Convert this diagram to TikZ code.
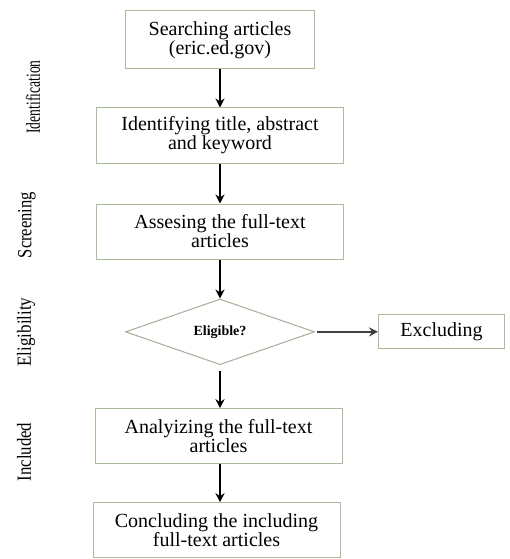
\documentclass[tikz,border=0pt]{standalone}
\usepackage{fontspec}
\setmainfont{Liberation Serif}
\usetikzlibrary{positioning,arrows.meta,shapes.geometric}
\definecolor{boxgreen}{HTML}{A9BC9A}

\begin{document}
\begin{tikzpicture}[>=Stealth,x=1pt,y=1pt,node distance=40pt and 63pt,
   every node/.style={font=\fontsize{20}{19}\selectfont},
   stepbox/.style={draw=boxgreen,line width=1pt,align=center,
     minimum width=247pt,minimum height=55pt,inner sep=2pt},
   phase/.style={rotate=90,inner sep=0pt},
   flow/.style={->,line width=1.7pt,>={Stealth[length=9pt,width=9pt]}}]
  \useasboundingbox (0,0) rectangle (509,-559);
  % main column
  \node (search) [stepbox,minimum width=189pt,minimum height=58pt] at (220,-40)
    {Searching articles\\(eric.ed.gov)};
  \node (ident) [stepbox,below=38pt of search] {Identifying title, abstract\\and keyword};
  \node (assess) [stepbox,below=of ident] {Assesing the full-text\\articles};
  \node (elig) [draw=boxgreen!80!gray,line width=1pt,diamond,inner sep=0pt,
    minimum width=189pt,minimum height=60pt,below=39pt of assess,
    font=\fontsize{14}{14}\selectfont\bfseries] {Eligible?};
  \node (excl) [stepbox,minimum width=126pt,minimum height=34pt,right=of elig] {Excluding};
  \node (analyze) [stepbox,below=43pt of elig,xshift=-1.5pt] {Analyizing the full-text\\articles};
  \node (concl) [stepbox,below=38pt of analyze,xshift=-2pt] {Concluding the including\\full-text articles};
  % phase labels
  \node (lid) [phase] at (33,-97) {\scalebox{0.68}[1]{Identification}};
  \node (lsc) [phase] at (27,-225) {\scalebox{0.83}[1]{Screening}};
  \node (lel) [phase] at (26,-332) {\scalebox{0.85}[1]{Eligibility}};
  \node (lin) [phase] at (24,-452) {\scalebox{0.84}[1]{Included}};
  \draw[flow] (search) -- (ident);
  \draw[flow] (ident) -- (assess);
  \draw[flow] (assess) -- (elig);
  \draw[flow,line width=2.2pt,black!75,shorten <=2pt] (elig) -- (excl);
  \draw[flow,shorten <=6pt] (elig.south) -- (elig.south |- analyze.north);
  \draw[flow] (analyze.south -| elig.south) -- (elig.south |- concl.north);
\end{tikzpicture}
\end{document}
